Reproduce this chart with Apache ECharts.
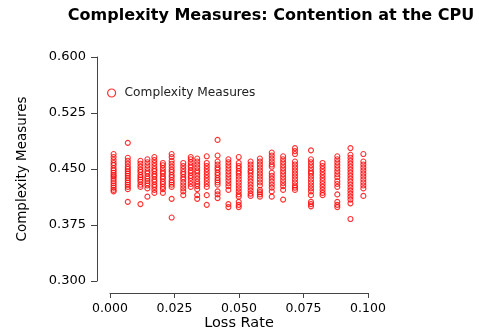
<!DOCTYPE html>
<html>
<head>
<meta charset="utf-8">
<title>Complexity Measures: Contention at the CPU</title>
<script src="https://cdn.jsdelivr.net/npm/echarts@6/dist/echarts.min.js"></script>
<style>
  html, body { margin: 0; padding: 0; background: #fff; }
  #chart { width: 479px; height: 330px; }
</style>
</head>
<body>
<div id="chart"></div>
<script>
// loss rates of the measured columns
const lossRates = [0.0014, 0.0069, 0.0118, 0.0145, 0.0172, 0.0205, 0.0239, 0.0284,
  0.0313, 0.0338, 0.0375, 0.0417, 0.0459, 0.0499, 0.0545, 0.0581, 0.0627, 0.0671,
  0.0717, 0.0779, 0.0824, 0.0881, 0.0932, 0.0982];

// complexity values per loss rate
const measures = [
  [0.470, 0.466, 0.462, 0.458, 0.455, 0.451, 0.448, 0.445, 0.442, 0.440, 0.437, 0.434, 0.431, 0.428, 0.425, 0.422, 0.420],
  [0.485, 0.465, 0.461, 0.457, 0.453, 0.450, 0.447, 0.444, 0.441, 0.438, 0.435, 0.432, 0.429, 0.426, 0.423, 0.406],
  [0.461, 0.457, 0.453, 0.449, 0.446, 0.442, 0.439, 0.436, 0.433, 0.429, 0.426, 0.403],
  [0.463, 0.459, 0.455, 0.451, 0.447, 0.444, 0.440, 0.437, 0.434, 0.431, 0.428, 0.424, 0.413],
  [0.466, 0.462, 0.458, 0.454, 0.450, 0.447, 0.443, 0.440, 0.436, 0.433, 0.429, 0.426, 0.422, 0.418],
  [0.458, 0.455, 0.451, 0.447, 0.444, 0.440, 0.437, 0.433, 0.430, 0.426, 0.423, 0.418],
  [0.470, 0.466, 0.461, 0.457, 0.453, 0.449, 0.446, 0.442, 0.439, 0.435, 0.432, 0.429, 0.426, 0.410, 0.385],
  [0.458, 0.454, 0.450, 0.446, 0.443, 0.439, 0.436, 0.432, 0.428, 0.424, 0.420, 0.415],
  [0.466, 0.463, 0.459, 0.455, 0.452, 0.448, 0.445, 0.441, 0.438, 0.434, 0.430, 0.426],
  [0.464, 0.460, 0.456, 0.452, 0.448, 0.445, 0.441, 0.437, 0.433, 0.430, 0.427, 0.423, 0.415, 0.410],
  [0.467, 0.458, 0.454, 0.450, 0.446, 0.442, 0.438, 0.434, 0.430, 0.426, 0.415, 0.402],
  [0.489, 0.468, 0.460, 0.456, 0.452, 0.449, 0.445, 0.442, 0.438, 0.435, 0.432, 0.429, 0.420, 0.416, 0.411],
  [0.463, 0.459, 0.455, 0.451, 0.447, 0.443, 0.439, 0.435, 0.431, 0.427, 0.422, 0.403, 0.399],
  [0.466, 0.458, 0.454, 0.451, 0.447, 0.444, 0.440, 0.436, 0.432, 0.428, 0.424, 0.420, 0.416, 0.413, 0.406, 0.402, 0.399],
  [0.460, 0.456, 0.452, 0.448, 0.445, 0.441, 0.437, 0.433, 0.429, 0.425, 0.421, 0.417, 0.414],
  [0.464, 0.460, 0.456, 0.452, 0.448, 0.444, 0.440, 0.436, 0.432, 0.428, 0.422, 0.419, 0.416, 0.413],
  [0.472, 0.468, 0.464, 0.460, 0.456, 0.453, 0.445, 0.441, 0.437, 0.433, 0.429, 0.425, 0.420, 0.413],
  [0.467, 0.463, 0.459, 0.455, 0.451, 0.447, 0.443, 0.439, 0.435, 0.431, 0.427, 0.422, 0.409],
  [0.478, 0.474, 0.470, 0.460, 0.456, 0.452, 0.448, 0.444, 0.440, 0.436, 0.432, 0.428, 0.425, 0.422],
  [0.475, 0.463, 0.459, 0.455, 0.451, 0.447, 0.444, 0.440, 0.436, 0.432, 0.428, 0.424, 0.420, 0.415, 0.406, 0.403, 0.400],
  [0.458, 0.454, 0.450, 0.446, 0.442, 0.438, 0.434, 0.430, 0.426, 0.422, 0.418, 0.415],
  [0.467, 0.463, 0.459, 0.455, 0.451, 0.447, 0.443, 0.439, 0.434, 0.430, 0.426, 0.416, 0.406, 0.402, 0.399],
  [0.478, 0.469, 0.465, 0.461, 0.457, 0.453, 0.449, 0.445, 0.441, 0.437, 0.433, 0.429, 0.425, 0.421, 0.417, 0.413, 0.409, 0.404, 0.383],
  [0.470, 0.460, 0.456, 0.452, 0.448, 0.444, 0.440, 0.436, 0.432, 0.428, 0.424, 0.414]
];

const xTicks = [0, 0.025, 0.05, 0.075, 0.1];
const yTicks = [0.3, 0.375, 0.45, 0.525, 0.6];

const font = "'DejaVu Sans', 'Liberation Sans', sans-serif";
const axisColor = "#444";

const points = [];
lossRates.forEach(function (x, i) {
  measures[i].forEach(function (y) {
    points.push([x, y]);
  });
});

const chart = echarts.init(document.getElementById("chart"), null, { renderer: "canvas" });

chart.setOption({
  animation: false,
  backgroundColor: "#fff",
  textStyle: { fontFamily: font },
  title: {
    text: "Complexity Measures: Contention at the CPU",
    left: 266,
    top: 3,
    textAlign: "center",
    textStyle: { fontFamily: font, fontSize: 16, fontWeight: "bold", color: "#000" },
  },
  legend: {
    left: 102,
    top: 82,
    icon: "circle",
    itemWidth: 8,
    itemHeight: 8,
    itemGap: 4,
    textStyle: { fontFamily: font, fontSize: 12.2, color: "#222", padding: [0, 0, 0, 4] },
    data: [{
      name: "Complexity Measures",
      itemStyle: { color: "transparent", borderColor: "#ff0000", borderWidth: 1.2 },
    }],
  },
  grid: { left: 110, right: 111, top: 57, bottom: 49, outerBoundsMode: "none" },
  xAxis: {
    type: "value",
    min: xTicks[0],
    max: xTicks[xTicks.length - 1],
    interval: 0.025,
    offset: 12,
    name: "Loss Rate",
    nameLocation: "middle",
    nameGap: 23,
    nameMoveOverlap: false,
    nameTextStyle: { fontFamily: font, fontSize: 14.5, color: "#000" },
    axisLine: { show: true, onZero: false, lineStyle: { color: axisColor, width: 1 } },
    axisTick: { show: true, length: 5, lineStyle: { color: axisColor } },
    axisLabel: {
      margin: 9,
      fontSize: 12.5,
      color: "#000",
      fontFamily: font,
      formatter: function (v) { return v.toFixed(3); },
    },
    splitLine: { show: false },
  },
  yAxis: {
    type: "value",
    min: yTicks[0],
    max: yTicks[yTicks.length - 1],
    interval: 0.075,
    offset: 13,
    name: "Complexity Measures",
    nameLocation: "middle",
    nameGap: 75,
    nameMoveOverlap: false,
    nameTextStyle: { fontFamily: font, fontSize: 13.5, color: "#000", verticalAlign: "middle" },
    axisLine: { show: true, onZero: false, lineStyle: { color: axisColor, width: 1 } },
    axisTick: { show: true, length: 6, lineStyle: { color: axisColor } },
    axisLabel: {
      margin: 11,
      fontSize: 13,
      color: "#000",
      fontFamily: font,
      formatter: function (v) { return v.toFixed(3); },
    },
    splitLine: { show: false },
  },
  series: [
    {
      name: "Complexity Measures",
      type: "scatter",
      symbol: "circle",
      symbolSize: 5,
      data: points,
      itemStyle: { color: "transparent", borderColor: "#ff0000", borderWidth: 1.1 },
    },
  ],
});
</script>
</body>
</html>
